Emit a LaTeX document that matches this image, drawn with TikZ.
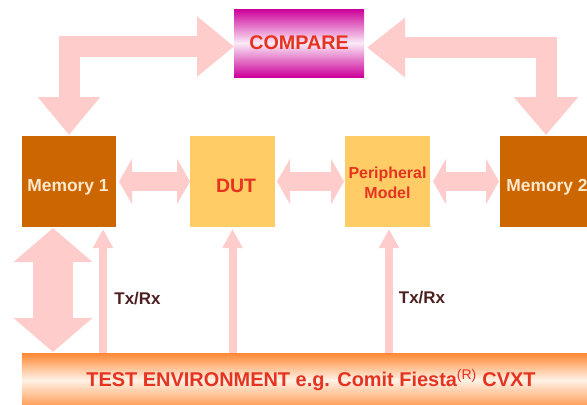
\documentclass[tikz,border=0pt]{standalone}
\usepackage{fontspec}
\setmainfont{Liberation Sans}
\usetikzlibrary{arrows.meta,calc}
\definecolor{apink}{HTML}{FFCCCC}
\definecolor{membrown}{HTML}{CC6600}
\definecolor{boxyel}{HTML}{FFCC66}
\definecolor{cmag}{HTML}{CC0099}
\definecolor{tred}{HTML}{E63320}
\definecolor{tbrown}{HTML}{4D2020}
\definecolor{cream}{HTML}{FFE8CC}
\definecolor{envor}{HTML}{FF8833}
\definecolor{envlight}{HTML}{FFF2E6}
\begin{document}
\begin{tikzpicture}[x=1bp,y=-1bp,
  blk/.style={inner sep=0pt, outer sep=0pt, align=center},
  membox/.style={blk, fill=membrown, text=cream, minimum width=94bp, minimum height=91bp,
    font=\bfseries\fontsize{17.5}{20}\selectfont, text depth=0pt},
  yelbox/.style={blk, fill=boxyel, text=tred, minimum width=85bp, minimum height=91bp,
    font=\bfseries\fontsize{19.5}{22}\selectfont},
  cmpbox/.style={blk, top color=cmag, bottom color=cmag, middle color=white!92!cmag,
    text=tred, minimum width=130bp, minimum height=68bp, font=\bfseries\fontsize{19.8}{22}\selectfont},
  envbox/.style={blk, top color=envor, bottom color=envor!85!white, middle color=envlight,
    text=tred, minimum width=578bp, minimum height=54bp, font=\bfseries\fontsize{20}{22}\selectfont},
  lbl/.style={blk, text=tbrown, font=\bfseries\fontsize{17}{20}\selectfont},
  bigL/.style={draw=apink, line width=21bp, line join=miter},
  hdarr/.style={draw=apink, line width=19bp, {Triangle[width=45bp,length=13bp]}-{Triangle[width=45bp,length=13bp]}},
  vdarr/.style={draw=apink, line width=39bp, {Triangle[width=77bp,length=34bp]}-{Triangle[width=77bp,length=34bp]}},
  thinarr/.style={draw=apink, line width=8bp, -{Triangle[width=19bp,length=19bp]}},
]
\useasboundingbox (0,0) rectangle (587,404);
\clip (0,0) rectangle (587,404);

% nodes
\node[cmpbox] (cmp) at (299,43) {COMPARE};
\node[membox] (m1) at (69,181.5) {};
\node[blk, text=cream, font=\bfseries\fontsize{17.5}{20}\selectfont] (m1t) at (68,187) {Memory 1};
\node[yelbox] (dut) at (232.5,181.5) {};
\node[blk, text=tred, font=\bfseries\fontsize{19.5}{22}\selectfont] (dutt) at (236,186) {DUT};
\node[yelbox, font=\bfseries\fontsize{16}{20}\selectfont] (per) at (387.5,181.5) {};
\node[blk, text=tred, font=\bfseries\fontsize{16}{20}\selectfont] (pert) at (387.5,183) {Peripheral\\Model};
\node[membox] (m2) at (547,181.5) {};
\node[blk, text=cream, font=\bfseries\fontsize{17.5}{20}\selectfont] (m2t) at (547,187) {Memory 2};
\node[envbox] (env) at (311,380) {TEST ENVIRONMENT e.g. Comit Fiesta\textsuperscript{\mdseries(R)} CVXT};

% L-shaped arrows to COMPARE
\draw[bigL, {Triangle[width=60bp,length=38bp]}-{Triangle[width=58bp,length=37bp]}]
  ($(m1.north)+(0,-1)$) |- ($(cmp.west)+(0,3.5)$);
\draw[bigL, {Triangle[width=62bp,length=38bp]}-{Triangle[width=57bp,length=38bp]}]
  ($(m2.north)+(-1,-1)$) |- ($(cmp.east)+(3,4.5)$);

% horizontal double arrows
\draw[hdarr] ($(m1.east)+(3,0)$) -- (dut.west);
\draw[hdarr] ($(dut.east)+(2,0)$) -- ($(per.west)+(-1,0)$);
\draw[hdarr] ($(per.east)+(3,0)$) -- ($(m2.west)+(-1,0)$);

% vertical double arrow
\coordinate (vtop) at ($(m1.south west)+(31,1)$);
\coordinate (vbot) at (vtop |- env.north);
\draw[vdarr] (vtop) -- ($(vbot)+(0,-1)$);

% thin Tx/Rx arrows
\coordinate (t1) at ($(m1.south east)+(-13,2)$);
\draw[thinarr] (t1 |- env.north) -- (t1);
\draw[thinarr] (dut.south |- env.north) -- ($(dut.south)+(0,2)$);
\draw[thinarr] ($(per.south |- env.north)+(1.5,0)$) -- ($(per.south)+(1.5,2)$);

% labels
\node[lbl] (tx1) at (137.5,299) {Tx/Rx};
\node[lbl] (tx2) at (422,298) {Tx/Rx};
\end{tikzpicture}
\end{document}
